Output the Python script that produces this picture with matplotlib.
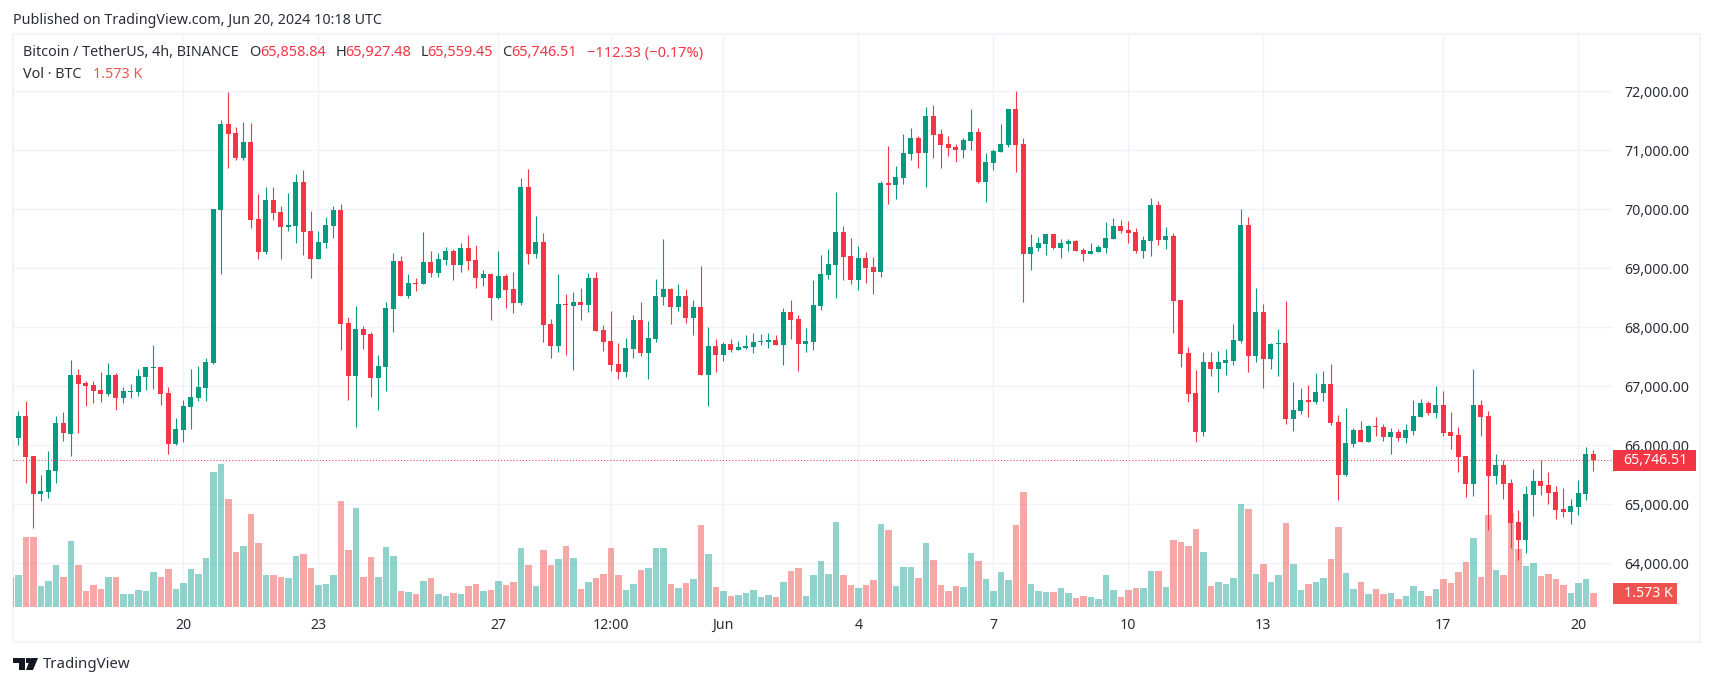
import matplotlib
matplotlib.use("Agg")
import matplotlib.pyplot as plt
from matplotlib.patches import Rectangle, Polygon
import numpy as np

plt.rcParams['font.family'] = ['Noto Sans', 'DejaVu Sans']

opens = [66130, 66497, 65819, 65181, 65209, 65565, 66378, 66192, 67192, 67056,
         67023, 66938, 66870, 67192, 66802, 66904, 66904, 67158, 67316, 67328,
         66887, 66023, 66260, 66650, 66802, 66972, 67396, 69989, 71446, 71294,
         70870, 71141, 69836, 69277, 70158, 69955, 69700, 69717, 70463, 69633,
         69158, 69429, 69717, 69989, 68073, 67175, 67972, 67887, 67141, 67328,
         68311, 69124, 68531, 68751, 68734, 69107, 68921, 69141, 69294, 69056,
         69344, 69141, 68836, 68904, 68497, 68870, 68650, 68412, 70378, 69243,
         69446, 68056, 67683, 68395, 68361, 68429, 68378, 68836, 67955, 67768,
         67378, 67243, 67633, 68124, 67565, 67802, 68514, 68650, 68344, 68531,
         68158, 68344, 67192, 67683, 67531, 67717, 67616, 67649, 67666, 67751,
         67751, 67785, 67700, 68260, 68141, 67717, 67751, 68361, 68887, 69056,
         69616, 69209, 68802, 69175, 69022, 68938, 70446, 70412, 70531, 70938,
         71209, 70955, 71582, 71277, 71107, 71056, 71006, 71158, 71311, 70463,
         70785, 70972, 71090, 71701, 71107, 69243, 69344, 69412, 69582, 69344,
         69412, 69463, 69311, 69243, 69277, 69344, 69497, 69717, 69650, 69616,
         69294, 69463, 70073, 69480, 69548, 68463, 67565, 66887, 66226, 67412,
         67294, 67395, 67429, 67768, 69734, 67514, 68260, 67463, 67717, 67734,
         66446, 66582, 66768, 66734, 66887, 67039, 66395, 65497, 66022, 66260,
         66056, 66327, 66310, 66141, 66226, 66124, 66243, 66480, 66717, 66548,
         66683, 66226, 66175, 65819, 65344, 66683, 66497, 65480, 65666, 65362,
         64700, 64395, 65158, 65395, 65328, 65209, 64921, 64870, 64955, 65175,
         65858.84]

closes = [66497, 65808, 65181, 65226, 65582, 66378, 66209, 67192, 67040, 67006,
          66921, 66870, 67192, 66802, 66921, 66921, 67175, 67328, 67328, 66870,
          66023, 66277, 66667, 66819, 66989, 67412, 70000, 71446, 71277, 70870,
          71141, 69819, 69277, 70158, 69938, 69700, 69734, 70463, 69616, 69158,
          69446, 69734, 69989, 68056, 67175, 67972, 67870, 67141, 67345, 68327,
          69124, 68531, 68751, 68740, 69107, 68921, 69158, 69294, 69056, 69344,
          69124, 68836, 68904, 68497, 68870, 68633, 68412, 70378, 69243, 69446,
          68039, 67683, 68395, 68378, 68429, 68378, 68836, 67938, 67751, 67361,
          67243, 67649, 68124, 67565, 67819, 68531, 68650, 68344, 68531, 68158,
          68344, 67192, 67683, 67531, 67717, 67616, 67666, 67683, 67751, 67768,
          67785, 67700, 68260, 68124, 67717, 67768, 68378, 68904, 69073, 69616,
          69192, 68802, 69175, 69005, 68938, 70446, 70412, 70548, 70955, 71209,
          70955, 71582, 71260, 71090, 71039, 71006, 71175, 71311, 70463, 70802,
          70989, 71107, 71701, 71090, 69243, 69361, 69429, 69582, 69344, 69429,
          69463, 69294, 69243, 69294, 69361, 69514, 69717, 69633, 69599, 69294,
          69480, 70073, 69480, 69548, 68446, 67548, 66870, 66226, 67412, 67294,
          67412, 67446, 67785, 69734, 67514, 68260, 67463, 67717, 67734, 66452,
          66599, 66768, 66734, 66904, 67039, 66378, 65497, 66039, 66260, 66056,
          66327, 66310, 66141, 66226, 66124, 66260, 66497, 66717, 66548, 66683,
          66209, 66158, 65802, 65344, 66683, 66480, 65480, 65666, 65344, 64684,
          64395, 65175, 65395, 65311, 65192, 64904, 64870, 64972, 65192, 65853,
          65746.51]

highs = [66582, 66751, 65819, 65497, 65904, 66497, 66565, 67446, 67294, 67090,
         67090, 67243, 67396, 67226, 66989, 67040, 67294, 67328, 67701, 67328,
         66989, 66463, 66768, 67294, 67345, 67480, 70010, 71514, 71989, 71395,
         71480, 71463, 70260, 70378, 70378, 70056, 70277, 70599, 70667, 69972,
         69633, 69870, 70056, 70090, 68175, 68361, 68022, 67921, 67531, 68429,
         69260, 69209, 68904, 68836, 69616, 69294, 69260, 69361, 69328, 69429,
         69565, 69395, 68972, 68921, 69294, 68904, 68938, 70531, 70684, 69887,
         69599, 68141, 68904, 68565, 68599, 68666, 68921, 68938, 68039, 68277,
         67734, 67819, 68209, 68429, 68107, 68819, 69497, 68666, 68734, 68650,
         68463, 69039, 68005, 67802, 67751, 67802, 67768, 67870, 67904, 67887,
         67904, 67870, 68327, 68463, 68209, 67988, 68802, 69226, 69328, 70294,
         69717, 69514, 69378, 69277, 69192, 70480, 71073, 70734, 71277, 71378,
         71243, 71734, 71768, 71362, 71243, 71107, 71209, 71701, 71378, 70955,
         71023, 71446, 71701, 72006, 71209, 69582, 69531, 69582, 69582, 69497,
         69497, 69480, 69344, 69429, 69395, 69785, 69853, 69819, 69802, 69683,
         69548, 70192, 70141, 69700, 69599, 68463, 67666, 67277, 67582, 67582,
         67599, 67633, 68056, 70006, 69870, 68666, 68395, 67734, 67972, 68446,
         67073, 66972, 67022, 67226, 67260, 67378, 66514, 66633, 66294, 66412,
         66344, 66480, 66361, 66294, 66277, 66361, 66768, 66785, 66751, 67006,
         66921, 66565, 66311, 65819, 67294, 66768, 66582, 65853, 65751, 65429,
         64904, 65311, 65599, 65751, 65548, 65311, 65277, 65090, 65412, 65972,
         65927.48]

lows = [66006, 65362, 64599, 65056, 65107, 65362, 66073, 65819, 66209, 66667,
        66717, 66734, 66836, 66599, 66717, 66802, 66836, 66938, 66955, 66684,
        65853, 66006, 66056, 66277, 66751, 66751, 67379, 68904, 70700, 70836,
        70836, 69683, 69158, 69243, 69819, 69158, 69633, 69429, 69226, 68836,
        69158, 69344, 69514, 67616, 66768, 66311, 67633, 66819, 66599, 66921,
        67921, 68531, 68497, 68616, 68734, 68853, 68853, 69056, 68802, 68938,
        68972, 68666, 68700, 68124, 68480, 68327, 68243, 68378, 69073, 69175,
        67751, 67480, 67582, 67531, 67277, 68124, 68260, 67938, 67599, 67260,
        67124, 67158, 67480, 67514, 67124, 67751, 68378, 68056, 68277, 68073,
        67870, 67192, 66666, 67243, 67429, 67582, 67616, 67633, 67565, 67700,
        67649, 67700, 67361, 67802, 67260, 67582, 67616, 68294, 68819, 68497,
        68802, 68734, 68633, 68751, 68565, 68853, 70090, 70175, 70429, 70836,
        70700, 70378, 70870, 70700, 70904, 70802, 70870, 71006, 70446, 70124,
        70667, 70972, 71056, 70633, 68429, 68972, 69294, 69226, 69328, 69175,
        69294, 69294, 69124, 69243, 69277, 69260, 69497, 69599, 69429, 69260,
        69175, 69209, 69395, 69328, 67904, 67327, 66734, 66056, 66158, 67175,
        66904, 67192, 67361, 67734, 67243, 67412, 66971, 67294, 67175, 66361,
        66243, 66531, 66480, 66700, 66751, 66344, 65073, 65480, 65972, 66056,
        66056, 66158, 66073, 65853, 66073, 66039, 66175, 66480, 66514, 66463,
        66158, 65938, 65548, 65124, 65141, 66158, 64565, 65344, 65090, 64260,
        64056, 64175, 64802, 65158, 65006, 64751, 64785, 64667, 64819, 65073,
        65559.45]

# volume in thousands of BTC
volumes = [3.64, 8.02, 8.02, 2.38, 2.95, 4.79, 3.41, 7.56, 4.79, 1.80,
           2.49, 2.03, 3.41, 3.41, 1.46, 1.46, 1.92, 1.80, 3.99, 3.41,
           4.33, 2.03, 2.72, 4.33, 3.76, 5.60, 15.50, 16.42, 12.39, 6.29,
           6.98, 10.66, 7.33, 3.64, 3.64, 3.41, 3.30, 5.83, 6.06, 4.45,
           2.49, 2.61, 3.64, 12.16, 6.52, 11.35, 3.41, 5.72, 3.41, 6.87,
           5.83, 1.80, 1.69, 1.46, 2.95, 3.30, 1.46, 1.23, 1.57, 1.46,
           2.38, 2.61, 1.80, 1.92, 2.95, 2.49, 2.84, 6.75, 4.79, 2.38,
           6.52, 4.79, 5.49, 6.98, 5.60, 2.03, 2.84, 3.30, 3.76, 6.75,
           3.64, 1.92, 2.61, 4.22, 4.45, 6.75, 6.75, 2.61, 2.15, 2.72,
           3.18, 9.40, 6.06, 2.26, 1.80, 1.23, 1.34, 1.57, 1.92, 1.11,
           1.34, 1.11, 2.84, 4.10, 4.45, 1.23, 3.64, 5.26, 3.76, 9.74,
           3.64, 2.49, 2.15, 2.49, 3.07, 9.51, 8.82, 2.38, 4.56, 4.56,
           3.30, 7.33, 5.37, 2.49, 1.80, 2.38, 2.26, 6.18, 5.26, 3.18,
           1.80, 3.99, 3.07, 9.40, 13.20, 2.61, 1.80, 1.69, 1.69, 2.15,
           1.57, 1.00, 1.23, 1.11, 0.88, 3.64, 1.92, 1.11, 1.92, 2.15,
           2.15, 4.10, 4.10, 2.26, 7.67, 7.44, 6.98, 8.94, 6.29, 2.38,
           2.84, 2.61, 3.30, 11.81, 11.24, 3.76, 4.91, 2.84, 3.64, 9.63,
           4.91, 1.92, 2.61, 2.84, 3.30, 5.49, 9.17, 3.87, 2.03, 2.84,
           1.46, 2.03, 1.46, 1.57, 0.88, 1.23, 2.38, 1.80, 1.23, 2.03,
           3.18, 2.72, 3.99, 5.14, 7.90, 3.41, 10.55, 4.22, 3.64, 10.78,
           6.64, 4.68, 5.03, 3.53, 3.76, 3.18, 2.49, 1.57, 2.72, 3.18,
           1.573]
volume_before = 3.41  # bar just cut off at the left edge

tick_bars = [22, 40, 64, 79, 94, 112, 130, 148, 166, 190, 208]
tick_labels = ['20', '23', '27', '12:00', 'Jun', '4', '7', '10', '13', '17', '20']
price_ticks = [64000, 65000, 66000, 67000, 68000, 69000, 70000, 71000, 72000]

UP = '#089981'
DOWN = '#F23645'
VOL_UP = '#26A69A'
VOL_DOWN = '#EF5350'
GRID = '#F0F3FA'
TEXT = '#2A2E39'

W, H = 1713, 686
# pane edges in pixels
LEFT, RIGHT, TOP, BOTTOM = 13, 1613, 34, 606.7
BAR0_X, BAR_STEP = 18.3, 7.5
PX_PER_USD = 0.059
Y_72K = 91.3
PX_PER_KVOL = 8.69


def fx(x):
    return x / W


def fy(y):
    return 1 - y / H


fig = plt.figure(figsize=(W / 100, H / 100), dpi=100, facecolor='white')

# outer frame
fig.add_artist(Rectangle((fx(12.7), fy(642)), fx(1700 - 12.7), (642 - 33.7) / H,
                         transform=fig.transFigure, fill=False,
                         edgecolor=GRID, linewidth=1.5, zorder=-1))

ax = fig.add_axes([fx(LEFT), fy(BOTTOM), fx(RIGHT - LEFT), (BOTTOM - TOP) / H])
ax.patch.set_visible(False)
ax_vol = ax.twinx()
ax_candles = ax.twinx()

x_range = ((LEFT - BAR0_X) / BAR_STEP, (RIGHT - BAR0_X) / BAR_STEP)
y_range = (72000 - (BOTTOM - Y_72K) / PX_PER_USD, 72000 + (Y_72K - TOP) / PX_PER_USD)
for a in (ax, ax_vol, ax_candles):
    a.set_xlim(*x_range)
    for s in a.spines.values():
        s.set_visible(False)
ax.set_ylim(*y_range)
ax_candles.set_ylim(*y_range)
ax_vol.set_ylim(0, (BOTTOM - TOP) / PX_PER_KVOL)
ax_vol.set_yticks([])
ax_candles.set_yticks([])

ax.yaxis.tick_right()
ax.set_yticks(price_ticks)
ax.set_yticklabels([f'{p:,.2f}' for p in price_ticks])
ax.tick_params(axis='y', length=0, pad=8, labelsize=10.2, labelcolor=TEXT)
ax.set_xticks(tick_bars)
ax.set_xticklabels(tick_labels)
ax.tick_params(axis='x', length=0, pad=8, labelsize=10.2, labelcolor=TEXT)
for lab in ax.get_xticklabels():
    if lab.get_text() == 'Jun':
        lab.set_fontweight('bold')
ax.grid(True, color=GRID, linewidth=1)
ax.set_axisbelow(True)

o = np.array(opens)
c = np.array(closes)
xs = np.arange(len(o))
up = c >= o
colors = np.where(up, UP, DOWN)
vol_colors = np.where(up, VOL_UP, VOL_DOWN)

ax_vol.bar(xs, volumes, width=0.87, color=vol_colors, alpha=0.5, linewidth=0)
ax_vol.bar(-1, volume_before, width=0.87, color=VOL_UP, alpha=0.5, linewidth=0)

ax_candles.vlines(xs, lows, highs, colors=colors, linewidth=0.8)
ax_candles.bar(xs, np.abs(c - o), bottom=np.minimum(o, c), width=0.667,
               color=colors, linewidth=0)

# last price line
ax_candles.axhline(closes[-1], color=DOWN, linewidth=0.75, linestyle=(0, (1, 2)))

# header
fig.text(fx(13), fy(20), 'Published on TradingView.com, Jun 20, 2024 10:18 UTC',
         fontsize=10.3, color=TEXT, va='center')
fig.text(fx(23), fy(53), 'Bitcoin / TetherUS, 4h, BINANCE', fontsize=10.3, color=TEXT, va='center')
legend_bits = [('O', 249.5, TEXT), (f'{opens[-1]:,.2f}', 260, DOWN),
               ('H', 335.5, TEXT), (f'{highs[-1]:,.2f}', 345, DOWN),
               ('L', 420.5, TEXT), (f'{lows[-1]:,.2f}', 427, DOWN),
               ('C', 502.5, TEXT), (f'{closes[-1]:,.2f}', 511.5, DOWN),
               ('−112.33 (−0.17%)', 587, DOWN)]
for txt, x, col in legend_bits:
    fig.text(fx(x), fy(53), txt, fontsize=10.5, color=col, va='center')
fig.text(fx(23), fy(74.5), 'Vol · BTC', fontsize=10.3, color=TEXT, va='center')
fig.text(fx(93), fy(74.5), '1.573 K', fontsize=10.3, color=VOL_DOWN, va='center')

# value tags on the price scale
fig.add_artist(Rectangle((fx(1613), fy(471)), fx(82.5), 21 / H, transform=fig.transFigure,
                         facecolor=DOWN, edgecolor='none', zorder=5))
fig.text(fx(1623), fy(460.5), f'{closes[-1]:,.2f}', fontsize=10.2, color='white',
         va='center', fontweight='medium', zorder=6)
fig.add_artist(Rectangle((fx(1613), fy(604)), fx(64), 21 / H, transform=fig.transFigure,
                         facecolor=VOL_DOWN, edgecolor='none', zorder=5))
fig.text(fx(1624), fy(593.5), '1.573 K', fontsize=10.2, color='white',
         va='center', fontweight='medium', zorder=6)

# TradingView logo
logo = '#131722'
fig.add_artist(Polygon([(fx(13), fy(658)), (fx(24.5), fy(658)), (fx(24.5), fy(670)),
                        (fx(18.5), fy(670)), (fx(18.5), fy(662.5)), (fx(13), fy(662.5))],
                       transform=fig.transFigure, facecolor=logo, edgecolor='none'))
fig.add_artist(Polygon([(fx(30.5), fy(658)), (fx(38), fy(658)), (fx(33), fy(670)), (fx(26), fy(670))],
                       transform=fig.transFigure, facecolor=logo, edgecolor='none'))
fig.add_artist(Rectangle((fx(25.5), fy(662.5)), fx(4.5), 4.5 / H, transform=fig.transFigure,
                         facecolor=logo, edgecolor='none'))
fig.text(fx(43), fy(665), 'TradingView', fontsize=10.8, color=TEXT, va='center')

fig.savefig('out.png', dpi=100)
